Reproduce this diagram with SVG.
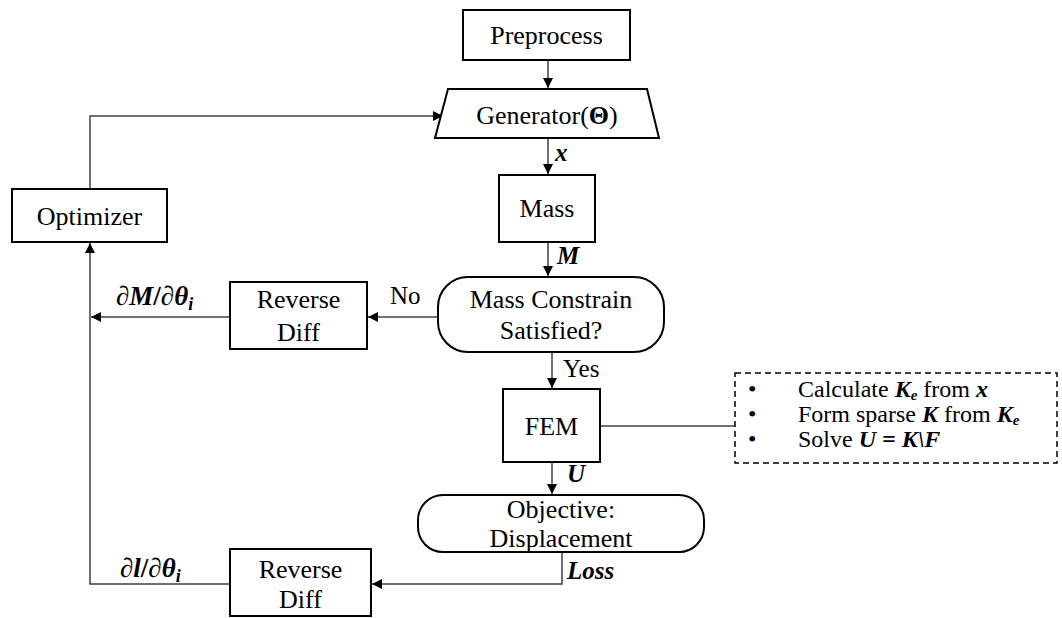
<svg xmlns="http://www.w3.org/2000/svg" width="1062" height="618" viewBox="0 0 1062 618">
<style>
.box{fill:#fff;stroke:#000;stroke-width:2}
.t{font-family:'Liberation Serif','Times New Roman',serif;font-size:26px;fill:#000;text-anchor:middle}
.lb{font-family:'Liberation Serif','Times New Roman',serif;font-size:25px;fill:#000}
.v{font-family:'Liberation Serif','Times New Roman',serif;font-size:25px;font-weight:bold;font-style:italic;fill:#000}
.d{font-family:'Liberation Serif','Times New Roman',serif;font-size:27px;font-weight:bold;fill:#000}
.c{fill:none;stroke:#404040;stroke-width:1.5}
.bl{font-family:'Liberation Serif','Times New Roman',serif;font-size:24px;fill:#000}
.bi{font-weight:bold;font-style:italic}
</style>
<defs>
<marker id="ah" markerWidth="10" markerHeight="10" refX="10" refY="5" orient="auto" markerUnits="userSpaceOnUse">
<path d="M0,0 L10,5 L0,10 Z" fill="#000"/>
</marker>
</defs>
<g id="connectors">
<path class="c" d="M548,60 V88" marker-end="url(#ah)"/>
<path class="c" d="M90,189 V116 H443" marker-end="url(#ah)"/>
<path class="c" d="M548,138 V174" marker-end="url(#ah)"/>
<path class="c" d="M548,242 V276" marker-end="url(#ah)"/>
<path class="c" d="M438,317 H368" marker-end="url(#ah)"/>
<path class="c" d="M230,317 H91" marker-end="url(#ah)"/>
<path class="c" d="M552,352 V388" marker-end="url(#ah)"/>
<path class="c" d="M600,426 H735"/>
<path class="c" d="M552,462 V494" marker-end="url(#ah)"/>
<path class="c" d="M562,552 V584 H372" marker-end="url(#ah)"/>
<path class="c" d="M230,584 H90 V243" marker-end="url(#ah)"/>
<text class="v" x="555" y="161">x</text>
<text class="v" x="557" y="264">M</text>
<text class="lb" x="390" y="304">No</text>
<text class="d" x="116" y="305">∂<tspan font-style="italic">M</tspan>/∂<tspan font-style="italic">θ</tspan><tspan font-style="italic" font-size="18" dy="5">i</tspan></text>
<text class="lb" x="563" y="377">Yes</text>
<text class="v" x="567" y="482">U</text>
<text class="v" x="567" y="579">Loss</text>
<text class="d" x="120" y="577">∂<tspan font-style="italic">l</tspan>/∂<tspan font-style="italic">θ</tspan><tspan font-style="italic" font-size="18" dy="5">i</tspan></text>
</g>
<g id="preprocess">
<rect class="box" x="463" y="10" width="167" height="50"/>
<text class="t" x="546.5" y="44">Preprocess</text>
</g>
<g id="generator">
<polygon class="box" points="448,89 647,89 659,138 435,138"/>
<text class="t" x="547" y="124">Generator(<tspan font-weight="bold">Θ</tspan>)</text>
</g>
<g id="optimizer">
<rect class="box" x="12" y="189" width="155" height="53"/>
<text class="t" x="89.5" y="225">Optimizer</text>
</g>
<g id="mass">
<rect class="box" x="499" y="175" width="96" height="67"/>
<text class="t" x="547" y="217">Mass</text>
</g>
<g id="mass-constrain">
<rect class="box" x="438" y="277" width="226" height="75" rx="30"/>
<text class="t" x="551" y="308">Mass Constrain</text>
<text class="t" x="551" y="339">Satisfied?</text>
</g>
<g id="reverse-diff-1">
<rect class="box" x="230" y="282" width="137" height="67"/>
<text class="t" x="298.5" y="308">Reverse</text>
<text class="t" x="298.5" y="341">Diff</text>
</g>
<g id="fem">
<rect class="box" x="503" y="389" width="97" height="73"/>
<text class="t" x="551.5" y="435">FEM</text>
</g>
<g id="fem-notes">
<rect x="735" y="373" width="322" height="90" fill="none" stroke="#000" stroke-width="1.5" stroke-dasharray="6,4"/>
<text class="bl" x="748" y="397">•</text>
<text class="bl" x="798" y="397">Calculate <tspan class="bi">K</tspan><tspan class="bi" font-size="15" dy="3">e</tspan><tspan dy="-3"> from </tspan><tspan class="bi">x</tspan></text>
<text class="bl" x="748" y="422">•</text>
<text class="bl" x="798" y="422">Form sparse <tspan class="bi">K</tspan> from <tspan class="bi">K</tspan><tspan class="bi" font-size="15" dy="3">e</tspan></text>
<text class="bl" x="748" y="447">•</text>
<text class="bl" x="798" y="447">Solve <tspan class="bi">U = K\F</tspan></text>
</g>
<g id="objective">
<rect class="box" x="418" y="495" width="286" height="57" rx="25"/>
<text class="t" x="561" y="518">Objective:</text>
<text class="t" x="561" y="547">Displacement</text>
</g>
<g id="reverse-diff-2">
<rect class="box" x="230" y="549" width="141" height="67"/>
<text class="t" x="300.5" y="578">Reverse</text>
<text class="t" x="300.5" y="608">Diff</text>
</g>
</svg>
